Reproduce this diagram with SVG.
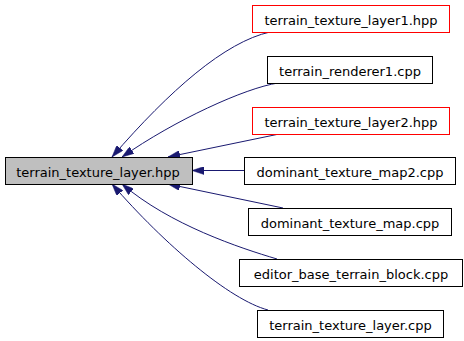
<svg xmlns="http://www.w3.org/2000/svg" width="464" height="341" viewBox="0 0 464 341">
  <defs>
    <style>
      .box { fill: #ffffff; stroke: #000000; stroke-width: 1; }
      .box.focus { fill: #bfbfbf; }
      .box.hdr { stroke: #ff0000; }
      .lbl { font-family: "DejaVu Sans", "Liberation Sans", sans-serif; font-size: 13px; fill: #000000; text-anchor: middle; }
      .edge { fill: none; stroke: #191970; stroke-width: 1; marker-end: url(#arrow); }
    </style>
    <marker id="arrow" viewBox="0 0 12 8" refX="12" refY="4" markerWidth="12" markerHeight="8" markerUnits="userSpaceOnUse" orient="auto">
      <path d="M0,0 L12,4 L0,8 z" fill="#191970" stroke="#191970" stroke-width="0.5"/>
    </marker>
  </defs>
  <rect width="464" height="341" fill="#ffffff"/>

  <!-- includers pointing back at the header -->
  <g id="edges">
    <path class="edge" d="M270,32 C225,42 170,90 112,157"/>
    <path class="edge" d="M278,83 C245,88 175,120 122,157"/>
    <path class="edge" d="M284,133 L168,157"/>
    <path class="edge" d="M244,170.5 L192,170.5"/>
    <path class="edge" d="M283,208 L168,184"/>
    <path class="edge" d="M277,259 C240,248 170,225 122,184"/>
    <path class="edge" d="M268,310 C230,300 165,245 112,184"/>
  </g>

  <g id="terrain_texture_layer_hpp">
    <rect class="box focus" x="5.5" y="157.5" width="187" height="27"/>
    <text class="lbl" x="98" y="176.5">terrain_texture_layer.hpp</text>
  </g>
  <g id="terrain_texture_layer1_hpp">
    <rect class="box hdr" x="252.5" y="5.5" width="197" height="27"/>
    <text class="lbl" x="351" y="24.5">terrain_texture_layer1.hpp</text>
  </g>
  <g id="terrain_renderer1_cpp">
    <rect class="box" x="267.5" y="56.5" width="165" height="27"/>
    <text class="lbl" x="350" y="75.5">terrain_renderer1.cpp</text>
  </g>
  <g id="terrain_texture_layer2_hpp">
    <rect class="box hdr" x="252.5" y="107.5" width="197" height="27"/>
    <text class="lbl" x="351" y="126.5">terrain_texture_layer2.hpp</text>
  </g>
  <g id="dominant_texture_map2_cpp">
    <rect class="box" x="244.5" y="157.5" width="211" height="27"/>
    <text class="lbl" x="350" y="176.5">dominant_texture_map2.cpp</text>
  </g>
  <g id="dominant_texture_map_cpp">
    <rect class="box" x="248.5" y="208.5" width="203" height="27"/>
    <text class="lbl" x="350" y="227.5">dominant_texture_map.cpp</text>
  </g>
  <g id="editor_base_terrain_block_cpp">
    <rect class="box" x="239.5" y="259.5" width="223" height="27"/>
    <text class="lbl" x="351" y="278.5">editor_base_terrain_block.cpp</text>
  </g>
  <g id="terrain_texture_layer_cpp">
    <rect class="box" x="257.5" y="310.5" width="186" height="27"/>
    <text class="lbl" x="350.5" y="329.5">terrain_texture_layer.cpp</text>
  </g>
</svg>
